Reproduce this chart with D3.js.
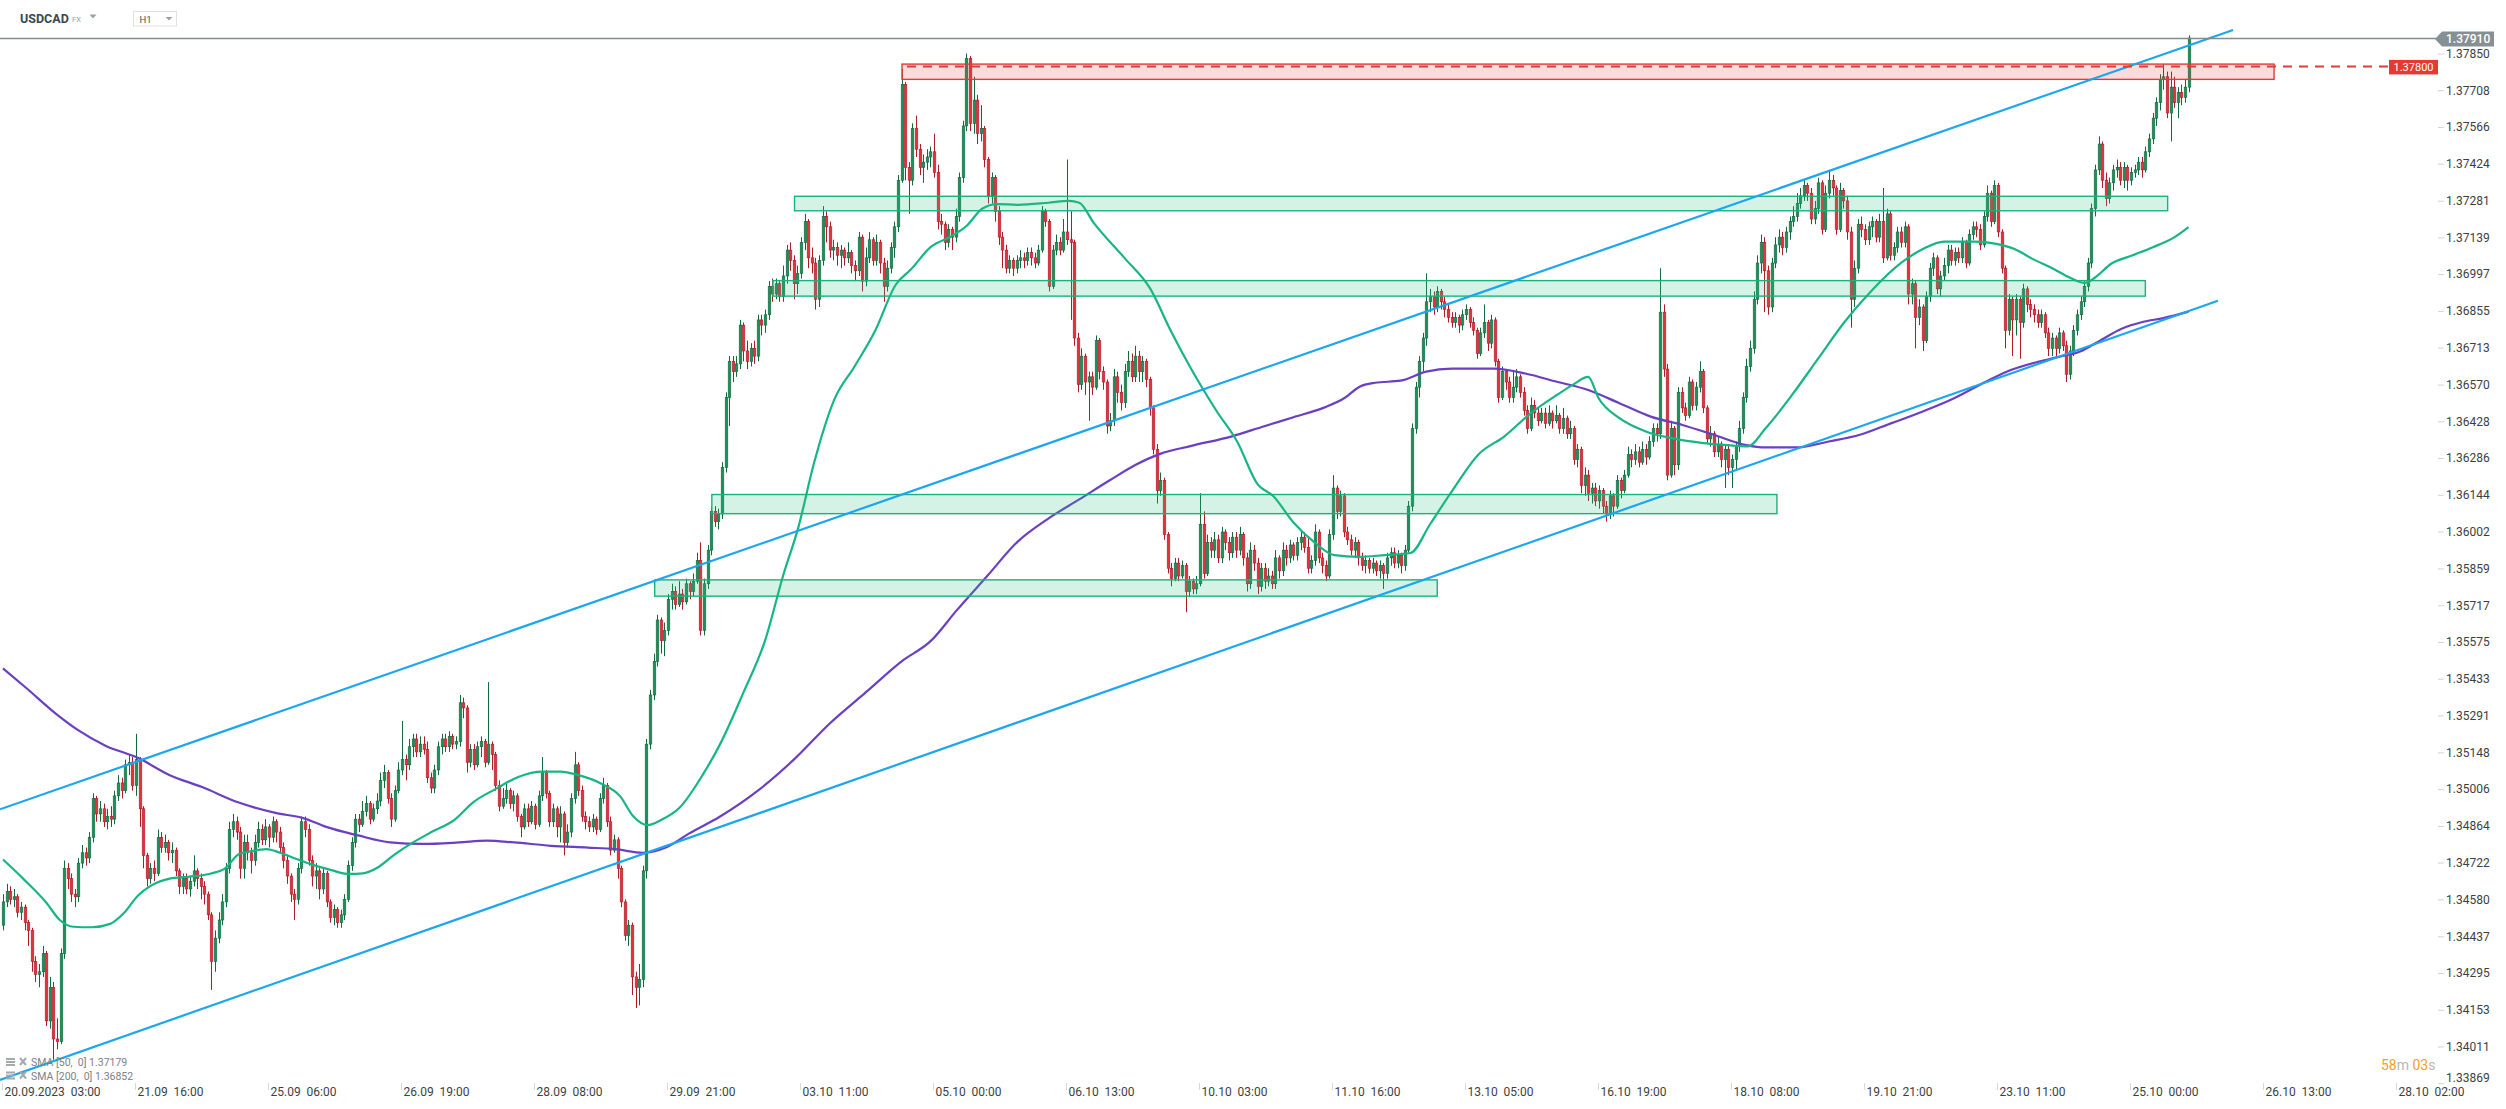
<!DOCTYPE html>
<html><head><meta charset="utf-8">
<script src="https://cdn.jsdelivr.net/npm/d3@7"></script>
<style>
html,body{margin:0;padding:0;background:#fff;overflow:hidden}
svg{display:block;font-family:Roboto,"Noto Sans",Arial,sans-serif}
</style></head><body>
<svg id="chart" width="2506" height="1109"></svg>
<script>
// ---------------- DATA ----------------
const symbol = "USDCAD";
const market = "FX";
const timeframe = "H1";
const basePrice = 1.34;           // closes / highs / lows are in pips above this
const firstOpen = 48;
const closes = [57,61,58,59,53,55,49,46,34,29,30,37,11,24,4,3,37,70,66,60,
59,72,76,74,82,97,91,93,88,90,89,98,103,100,110,111,102,112,93,75,
66,70,68,82,78,80,76,77,69,63,66,62,65,69,66,63,60,52,34,43,
50,57,70,85,88,84,70,80,76,73,80,85,81,86,82,88,84,78,73,67,
60,58,70,88,85,73,67,69,62,68,57,51,54,49,52,58,71,80,89,87,
92,95,89,93,96,104,107,97,89,100,108,112,110,117,120,115,118,116,105,101,
108,117,120,117,121,118,119,134,132,111,116,110,117,119,111,118,114,102,94,97,
100,95,98,90,86,93,88,94,87,98,107,99,88,93,86,91,80,84,97,110,
100,90,88,86,89,85,97,102,88,77,81,70,57,44,48,28,24,27,69,118,
137,150,166,158,162,174,177,172,176,173,180,177,181,189,162,180,193,208,204,207,
225,252,266,262,265,280,270,266,271,268,282,280,284,295,292,296,291,299,309,305,
296,300,312,320,306,304,290,305,322,318,309,310,307,309,306,308,303,301,314,297,
306,313,305,312,304,295,302,310,318,336,373,341,336,356,348,341,343,345,347,339,
320,319,312,317,314,322,337,357,383,358,367,354,356,344,330,337,324,314,309,302,
305,302,305,306,305,308,306,304,309,324,320,295,309,312,309,316,313,312,275,257,
268,258,260,256,274,262,258,241,243,260,254,250,262,266,260,268,262,266,259,248,
232,216,220,199,186,182,188,183,187,177,181,178,180,203,184,196,193,197,190,200,
196,192,198,193,199,190,180,193,188,179,186,181,183,180,190,185,193,190,195,191,
196,198,194,186,189,200,190,187,183,199,217,208,214,200,197,193,196,190,187,189,
186,188,185,187,184,190,192,188,191,187,193,210,240,256,266,275,289,291,287,293,
289,286,283,281,283,280,284,286,281,278,269,277,281,273,282,266,252,262,258,252,
256,260,254,247,240,249,246,243,246,242,246,243,245,240,244,238,240,228,232,218,
222,215,217,212,216,210,207,214,210,220,216,222,230,228,231,227,232,229,235,240,
238,285,263,222,240,226,254,248,245,258,249,256,262,248,236,238,231,234,228,232,
225,228,233,240,252,264,271,290,304,312,301,287,304,311,314,310,316,320,322,327,
330,334,331,321,325,335,317,331,336,333,317,332,328,316,290,302,319,317,313,318,
320,314,320,306,323,307,310,316,312,318,292,296,283,287,274,291,302,306,294,299,
303,309,305,308,306,312,304,315,318,317,311,322,331,320,334,316,302,278,290,282,
290,281,294,288,286,284,281,284,277,271,275,271,277,272,261,270,278,284,289,295,
304,325,340,350,336,329,335,340,341,336,341,336,339,340,343,340,347,352,360,366,
375,376,362,372,366,370,368,372,391];
const highs = [60,64,63,62,60,57,56,50,47,36,33,40,38,28,26,12,39,73,72,68,
62,74,79,78,84,99,98,96,95,93,94,100,106,105,112,114,113,122,113,94,
76,72,73,85,84,83,81,80,78,70,68,68,67,75,70,68,65,61,53,46,
53,60,72,88,91,90,86,83,83,78,83,88,87,89,87,90,89,86,80,75,
68,62,72,90,90,87,75,72,70,70,69,58,56,55,54,60,73,82,91,91,
96,98,96,95,99,107,110,108,99,102,111,127,114,120,122,122,121,121,119,107,
110,119,122,122,123,122,121,137,136,133,118,118,119,121,120,142,119,115,104,101,
103,101,100,99,91,95,95,96,95,100,113,108,100,95,94,94,92,87,99,115,
111,102,92,90,91,90,99,105,103,90,83,82,71,58,50,49,30,33,71,120,
139,153,168,167,165,176,180,179,181,178,182,181,184,192,196,182,195,210,210,209,
227,254,268,268,268,282,281,274,273,274,284,284,286,297,298,298,297,303,311,312,
307,303,314,323,321,310,306,307,326,324,320,313,312,311,310,312,309,305,316,315,
310,316,314,315,313,306,305,312,320,338,379,374,343,358,361,350,346,348,349,354,
342,323,320,319,318,325,339,359,385,384,376,369,365,357,345,339,338,326,316,311,
307,306,307,309,308,310,310,308,311,326,325,321,311,315,314,321,344,324,313,277,
271,269,262,262,276,275,264,259,246,263,262,257,265,270,269,272,270,268,267,260,
249,234,223,221,200,188,190,190,189,188,183,182,183,215,208,199,198,200,199,202,
201,198,200,200,202,200,192,196,195,190,188,188,186,185,193,191,196,195,197,196,
198,200,200,198,191,203,201,192,189,201,222,218,216,215,202,199,198,197,192,191,
190,190,189,189,188,192,194,194,193,192,195,212,242,258,268,277,300,294,293,295,
294,291,288,285,285,284,286,288,287,283,279,279,288,282,284,283,267,264,263,260,
262,263,261,256,249,252,251,248,248,248,249,247,249,246,248,245,243,241,234,233,
225,224,219,219,218,217,212,216,215,222,221,224,233,232,234,233,235,234,237,242,
242,302,288,265,243,241,256,256,250,260,259,258,266,263,249,241,239,237,235,234,
234,230,235,243,254,267,274,293,307,315,314,303,306,314,317,316,318,322,326,331,
333,336,335,333,328,337,336,334,340,338,334,335,333,330,318,305,321,322,319,320,
322,321,323,333,325,324,312,318,318,320,319,298,297,290,288,293,304,308,307,301,
306,311,311,310,310,314,313,317,320,320,319,324,334,332,336,335,317,303,292,291,
292,291,296,295,290,288,286,286,285,279,277,276,279,278,274,272,280,286,291,297,
306,327,342,353,351,339,337,342,344,343,343,342,341,342,345,345,349,354,362,368,
377,381,378,378,376,372,373,375,392];
const lows = [46,55,56,55,51,50,46,40,30,26,24,28,9,8,-4,0,2,35,62,57,
55,57,70,71,72,80,88,88,86,85,86,87,96,97,99,106,100,98,86,70,
63,64,65,67,76,76,73,72,67,60,60,60,59,63,62,58,56,50,23,30,
41,48,55,68,82,81,66,66,73,68,71,78,79,79,78,80,80,76,70,64,
57,50,56,68,82,71,63,62,58,60,55,49,48,47,47,50,57,69,78,84,
86,90,87,88,91,94,101,95,86,88,99,106,104,108,113,113,113,114,103,99,
99,106,114,115,115,116,116,117,128,107,109,108,109,113,109,110,108,100,92,93,
95,93,92,88,82,85,86,87,85,86,96,97,86,86,82,80,75,78,82,95,
98,88,85,84,84,83,84,95,86,75,76,66,55,42,40,21,16,17,24,66,
116,135,148,153,152,160,170,170,171,170,172,174,175,180,160,160,178,191,202,201,
205,223,241,258,260,263,266,263,264,265,266,276,277,282,289,290,289,289,296,301,
290,292,298,309,302,300,286,287,303,312,306,305,303,302,303,304,300,297,299,293,
295,304,303,303,300,289,293,300,306,316,335,336,323,334,345,338,335,340,341,337,
317,315,309,310,309,312,320,335,355,355,354,350,351,341,327,327,320,311,302,300,
300,299,300,302,302,303,303,302,303,308,318,293,294,307,307,308,311,282,272,254,
255,253,243,253,255,259,255,238,239,241,250,247,248,260,258,258,258,258,256,245,
230,211,214,197,184,179,181,181,182,169,175,176,176,179,182,183,190,190,188,188,
193,189,190,190,191,187,177,178,185,176,177,178,179,178,178,182,183,187,188,189,
189,193,192,184,184,187,188,184,181,182,197,205,206,198,195,191,190,187,185,184,
184,184,183,182,178,182,187,186,186,184,185,192,208,238,252,262,272,285,284,285,
286,283,281,279,279,277,278,282,279,276,267,268,275,270,271,264,250,251,255,250,
250,254,252,245,238,239,244,241,242,240,241,240,242,238,238,236,236,226,225,215,
214,212,211,210,209,207,204,205,206,209,213,215,221,225,226,225,226,226,228,233,
235,236,260,220,221,222,224,246,243,244,247,247,254,246,234,233,229,229,225,217,
222,217,224,231,238,250,262,269,288,300,285,284,285,302,308,307,308,313,318,320,
325,328,328,319,319,323,315,316,329,330,315,316,325,313,279,287,300,314,311,311,
314,312,312,304,305,305,305,308,310,310,288,288,271,280,270,273,289,299,292,291,
297,300,303,303,304,304,302,303,313,314,309,310,320,318,319,314,300,271,276,268,
276,267,279,285,283,281,279,279,275,268,268,268,269,270,258,259,268,276,282,287,
293,302,322,338,333,326,327,332,337,334,333,332,334,337,338,337,339,345,350,357,
363,371,360,351,364,360,365,366,370];

// moving averages (bar index, pips above basePrice)
const sma50Bars = [0,5.6,12,15.8,19.6,24.7,29.8,33.7,37.5,41.3,46.4,51.5,57.9,61.8,65.6,69.4,73.3,77.1,80.9,86,91.1,96.2,100.1,103.9,109,114.1,119.2,125.6,130.7,137.1,143.5,149.9,155,160.1,166.5,171.6,175.4,179.3,183.1,188.2,194.6,199.5,206,212,217,221.3,225.5,231.2,236.9,242.6,248.3,252.5,258.2,263.9,268.1,272.4,276.6,282.3,290.8,296.5,299.4,303.6,312.1,319.2,324.9,330.6,337.7,343.4,349,353.3,359,364.6,370.3,377.4,384.5,391.6,397,403.1,410.4,417.7,425,432.3,436.6,441,443.9,449.7,457,464.3,473,478.8,485.4,490.4,497.7,505,512.3,519.5,528.3,534.1,540,548.6,554.5,559.6,564.6,570.5,574.8,579.2,582.1,586.5,592.3,598.1,604,608];
const sma50Vals = [73.4,66,56.8,50,47.4,47.2,48.5,52.8,59.4,63.4,66,66.7,68,70,75.4,76.7,77.4,76,74,71.4,69.4,67.8,68,70,75.4,80,84,88.7,95.4,100.7,105.4,107.4,107.4,106,102.7,98,90,86.7,88.7,93.4,106,118,138,158,183,202,226,251,264,277.7,295.5,301.4,310.3,314.4,318.4,325,326.8,326.5,327.3,328,327.3,319.2,305.8,294,277.7,262.9,246.6,234.8,218.5,214,203.7,196.3,191.1,190.4,191.1,191.9,203,215.8,229.9,237,245.9,253,256.8,260,251.7,244,238.9,236.3,234.4,233.7,233.1,240.2,253,267.1,281.2,292.8,304.3,309.4,312.3,312.3,311.4,309.4,305.6,301.7,298.5,296.3,298.5,303.7,306.9,310.1,313.9,317.9];
const sma200Bars = [0,6.8,14.5,20.9,28.5,37.5,46.4,55.4,65.6,75.8,83.5,89.9,98.8,107.7,116.7,126.9,134.6,142.2,152.4,162.7,170.3,178,184.4,190.8,199.5,210,220,230,240,250,258.2,265.3,273.8,282.3,290.8,299.4,307.9,315,322.1,330.6,341.9,350.4,359,367.5,373.2,377.4,381.7,388.8,395.9,403.1,414.8,423.5,432.3,441,449.7,458.4,467.2,475.9,484.6,490.5,499.2,507.9,516.6,525.4,534.1,542.8,551.6,557.4,566.1,571.9,577.7,583.6,589.4,595.2,601,608];
const sma200Vals = [147.3,139.3,130,123.4,117.4,112.7,106,101.4,95.4,91.4,89.4,86,82.7,80,79.4,80,80.7,80,78.7,78,77.4,76,78,83.4,90,100,112,126,138,150,158,169.7,183,196.3,205.2,212.6,220,225.9,230.3,233.3,237,240.7,244.4,248.1,251.8,256.2,257.7,258.5,262,263.2,263.2,261.3,258.1,254.9,249.8,244.6,241.4,237.6,233.7,232.7,232.7,235,237.6,242.1,246.6,251.7,258.1,262,265.8,267.7,269.7,274.2,278.6,281.2,282.7,285.2];

// drawn channel lines: [bar, pips]
const upperChannel = [[-0.83, 92.8], [620.4, 394.1]];
const lowerChannel = [[-0.83, -11.8], [616.2, 289.4]];

// support / resistance zones
const greenZoneStart = [220.2, 214.2, 197.2, 181.3];
const greenZoneEnd   = [602.2, 596.0, 493.5, 399.0];
const greenZoneTop    = [1.37298, 1.36972, 1.36145, 1.35815];
const greenZoneBottom = [1.37242, 1.36912, 1.36071, 1.35752];
const redZoneStart = 250.1, redZoneEnd = 631.8;
const redZoneTop = 1.37809, redZoneBottom = 1.37750;
const alertLevel = 1.37800;
const alertLabel = "1.37800";
const lastPrice = 1.37910;
const lastPriceLabel = "1.37910";

const yTickLabels = ["1.37850","1.37708","1.37566","1.37424","1.37281","1.37139","1.36997","1.36855","1.36713","1.36570","1.36428","1.36286","1.36144","1.36002","1.35859","1.35717","1.35575","1.35433","1.35291","1.35148","1.35006","1.34864","1.34722","1.34580","1.34437","1.34295","1.34153","1.34011","1.33869"];
const xTickBars = [0,37,74,111,148,185,222,259,296,333,370,407,444,481,518,555,592,629,666];
const xTickLabels = ["20.09.2023  03:00","21.09  16:00","25.09  06:00","26.09  19:00","28.09  08:00","29.09  21:00","03.10  11:00","05.10  00:00","06.10  13:00","10.10  03:00","11.10  16:00","13.10  05:00","16.10  19:00","18.10  08:00","19.10  21:00","23.10  11:00","25.10  00:00","26.10  13:00","28.10  02:00"];
const legendLabels = ["SMA [50,  0] 1.37179", "SMA [200,  0] 1.36852"];
const countdown = [["58","num"],["m","unit"],[" 03","num"],["s","unit"]];

// ---------------- CHART ----------------
const W = 2506, H = 1109;
const svg = d3.select("#chart");
svg.append("rect").attr("width", W).attr("height", H).attr("fill", "#fff");

const x = d3.scaleLinear().domain([0, 608]).range([3, 2188.5]);
const y = d3.scaleLinear().domain([1.37850, 1.34011]).range([53.5, 1046.5]);
const P = v => basePrice + v / 10000;

svg.append("defs").append("clipPath").attr("id", "plotclip")
  .append("rect").attr("x", 0).attr("y", 28).attr("width", 2437).attr("height", 1062);
const plot = svg.append("g").attr("clip-path", "url(#plotclip)");

// candles
const UP_F = "#1f8f5e", UP_S = "#13693f", DN_F = "#e6323f", DN_S = "#aa1d28";
const candles = closes.map((c, i) => {
  const o = i === 0 ? firstOpen : closes[i - 1];
  return { i, o, c, h: Math.max(highs[i], o, c), l: Math.min(lows[i], o, c) };
});
const gC = plot.append("g");
gC.selectAll("line").data(candles).join("line")
  .attr("x1", d => Math.round(x(d.i)) + 0.5).attr("x2", d => Math.round(x(d.i)) + 0.5)
  .attr("y1", d => y(P(d.h))).attr("y2", d => y(P(d.l)))
  .attr("stroke", d => d.c >= d.o ? UP_S : DN_S).attr("stroke-width", 1);
gC.selectAll("rect").data(candles).join("rect")
  .attr("x", d => Math.round(x(d.i)) - 0.8)
  .attr("width", 2.6)
  .attr("y", d => y(P(Math.max(d.o, d.c))))
  .attr("height", d => Math.max(1, Math.abs(y(P(d.o)) - y(P(d.c)))))
  .attr("fill", d => d.c >= d.o ? UP_F : DN_F)
  .attr("stroke", d => d.c >= d.o ? UP_S : DN_S).attr("stroke-width", 0.6);

// moving averages
const smaLine = d3.line().x(d => x(d[0])).y(d => y(P(d[1]))).curve(d3.curveMonotoneX);
plot.append("path").datum(sma200Bars.map((b, i) => [b, sma200Vals[i]]))
  .attr("d", smaLine).attr("fill", "none").attr("stroke", "#6a3fc2").attr("stroke-width", 2.2);
plot.append("path").datum(sma50Bars.map((b, i) => [b, sma50Vals[i]]))
  .attr("d", smaLine).attr("fill", "none").attr("stroke", "#17b584").attr("stroke-width", 2.2);

// zones
const zones = greenZoneStart.map((s, i) => ({ s, e: greenZoneEnd[i], t: greenZoneTop[i], b: greenZoneBottom[i] }));
plot.append("g").selectAll("rect").data(zones).join("rect")
  .attr("x", d => x(d.s)).attr("width", d => x(d.e) - x(d.s))
  .attr("y", d => y(d.t)).attr("height", d => y(d.b) - y(d.t))
  .attr("fill", "rgba(38,194,129,0.2)").attr("stroke", "#1ab27a").attr("stroke-width", 1.4);
plot.append("rect")
  .attr("x", x(redZoneStart)).attr("width", x(redZoneEnd) - x(redZoneStart))
  .attr("y", y(redZoneTop)).attr("height", y(redZoneBottom) - y(redZoneTop))
  .attr("fill", "rgba(232,58,58,0.18)").attr("stroke", "#e53935").attr("stroke-width", 1.4);

// channel lines
const chLine = d3.line().x(d => x(d[0])).y(d => y(P(d[1])));
[upperChannel, lowerChannel].forEach(c => {
  plot.append("path").datum(c).attr("d", chLine).attr("fill", "none")
    .attr("stroke", "#1ca6ee").attr("stroke-width", 2.2);
});

// alert dashed line
svg.append("line").attr("x1", x(redZoneStart) + 5).attr("x2", 2388)
  .attr("y1", y(alertLevel)).attr("y2", y(alertLevel))
  .attr("stroke", "#e53935").attr("stroke-width", 2).attr("stroke-dasharray", "9,7");

// current price line
svg.append("line").attr("x1", 0).attr("x2", 2436)
  .attr("y1", Math.round(y(lastPrice)) + 0.5).attr("y2", Math.round(y(lastPrice)) + 0.5)
  .attr("stroke", "#7f8b8d").attr("stroke-width", 1.3);

// Y axis
const yAxis = d3.axisRight(y)
  .tickValues(yTickLabels.map(Number))
  .tickFormat((d, i) => yTickLabels[i])
  .tickSize(6).tickPadding(2);
const gy = svg.append("g").attr("transform", "translate(2438,0)").call(yAxis);
gy.select(".domain").remove();
gy.selectAll(".tick line").attr("stroke", "#cfd4d6");
gy.selectAll(".tick text").attr("fill", "#3b3f42").attr("font-size", 12)
  .attr("font-family", "Roboto, sans-serif")
  .attr("y", d => Math.min(0, 1078 - y(d)));

// X axis
const xAxis = d3.axisBottom(x).tickValues(xTickBars)
  .tickFormat((d, i) => xTickLabels[i]).tickSize(7);
const gx = svg.append("g").attr("transform", "translate(-1,1083)").call(xAxis);
gx.select(".domain").remove();
gx.selectAll(".tick line").attr("stroke", "#d5d9db");
gx.selectAll(".tick text").attr("text-anchor", "start").attr("x", 2).attr("y", 13).attr("dy", 0)
  .attr("fill", "#3b3f42").attr("font-size", 12).attr("font-family", "Roboto, sans-serif")
  .style("white-space", "pre");

// alert label
const yA = y(alertLevel);
svg.append("rect").attr("x", 2389).attr("y", yA - 6.5).attr("width", 49).attr("height", 14.5).attr("fill", "#e53935");
svg.append("text").attr("x", 2413.5).attr("y", yA + 4.5).attr("text-anchor", "middle")
  .attr("fill", "#fff").attr("font-size", 11).text(alertLabel);

// last price tag
const yL = y(lastPrice) + 1;
svg.append("path").attr("d", `M2435,${yL} L2442,${yL - 7.5} L2494,${yL - 7.5} L2494,${yL + 7.5} L2442,${yL + 7.5} Z`)
  .attr("fill", "#868f93");
svg.append("text").attr("x", 2446).attr("y", yL + 4.5).attr("fill", "#fff")
  .attr("font-size", 12).attr("font-weight", 500).text(lastPriceLabel);

// header
svg.append("text").attr("x", 20).attr("y", 22.5).attr("font-size", 12.5).attr("font-weight", 700)
  .attr("fill", "#37474f").text(symbol);
svg.append("text").attr("x", 72).attr("y", 22).attr("font-size", 7.5).attr("fill", "#9aa3a6").text(market);
svg.append("path").attr("d", "M89.5,14.5 L96.5,14.5 L93,18.5 Z").attr("fill", "#9aa3a6");
svg.append("rect").attr("x", 133.5).attr("y", 11.5).attr("width", 43).attr("height", 14.5)
  .attr("fill", "#fff").attr("stroke", "#dde1e3");
svg.append("text").attr("x", 139.5).attr("y", 22.5).attr("font-size", 9.5).attr("fill", "#4a5358").text(timeframe);
svg.append("path").attr("d", "M165.5,17 L172.5,17 L169,20.5 Z").attr("fill", "#9aa3a6");

// legend
legendLabels.forEach((t, i) => {
  const by = 1066 + i * 13.5;
  const g = svg.append("g").attr("fill", "#a4a9ac");
  g.append("rect").attr("x", 6).attr("y", by - 8).attr("width", 9).attr("height", 2);
  g.append("rect").attr("x", 6).attr("y", by - 5).attr("width", 9).attr("height", 2);
  g.append("rect").attr("x", 6).attr("y", by - 2).attr("width", 9).attr("height", 2);
  svg.append("path").attr("d", `M20,${by - 8} L26,${by - 1} M26,${by - 8} L20,${by - 1}`)
    .attr("stroke", "#a4a9ac").attr("stroke-width", 2);
  svg.append("text").attr("x", 31).attr("y", by).attr("font-size", 10.5).attr("fill", "#7c8184")
    .style("white-space", "pre").text(t);
});

// countdown
const cd = svg.append("text").attr("x", 2381).attr("y", 1070).attr("font-size", 14).style("white-space", "pre");
countdown.forEach(([t, k]) => cd.append("tspan").attr("fill", k === "num" ? "#f5a01e" : "#b3b8bb").text(t));
</script>
</body></html>
